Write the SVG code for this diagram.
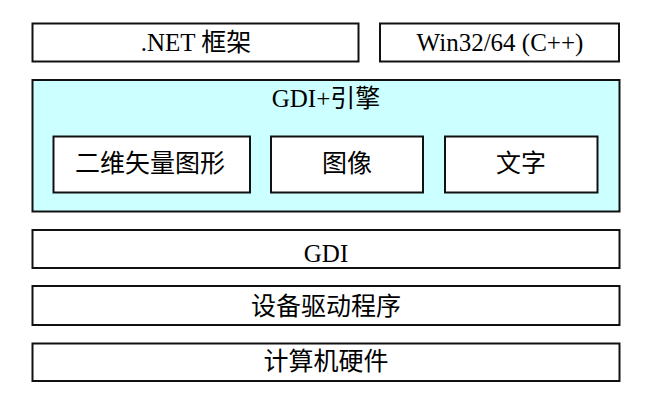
<svg xmlns="http://www.w3.org/2000/svg" width="665" height="401" viewBox="0 0 665 401">
<style>
rect.b{stroke:#111;stroke-width:2;fill:#fff}
rect.c{fill:#ccffff}
text{font-family:"Liberation Serif","Noto Sans CJK SC",serif;font-size:25px;fill:#000;text-anchor:middle}
</style>
<rect width="665" height="401" fill="#fff"/>
<g id="net"><rect class="b" x="32.5" y="23.5" width="326" height="38"/><text x="196" y="50.5">.NET 框架</text></g>
<g id="win"><rect class="b" x="380" y="23.5" width="239" height="38"/><text x="500" y="51">Win32/64 (C++)</text></g>
<g id="gdiplus"><rect class="b c" x="32.5" y="80" width="587" height="131.5"/><text x="326" y="106.5">GDI+引擎</text></g>
<g id="vector"><rect class="b" x="53.5" y="136.5" width="196.5" height="56"/><text x="150" y="172">二维矢量图形</text></g>
<g id="image"><rect class="b" x="271" y="136.5" width="152" height="56"/><text x="347" y="172">图像</text></g>
<g id="textnode"><rect class="b" x="445" y="136.5" width="152.5" height="56"/><text x="521" y="172">文字</text></g>
<g id="gdi"><rect class="b" x="32.5" y="230" width="587" height="38"/><text x="326" y="262">GDI</text></g>
<g id="driver"><rect class="b" x="32.5" y="286" width="587" height="39"/><text x="326" y="315">设备驱动程序</text></g>
<g id="hardware"><rect class="b" x="32.5" y="343.5" width="587" height="37.5"/><text x="326" y="370">计算机硬件</text></g>
<g id="connectors"></g>
</svg>
